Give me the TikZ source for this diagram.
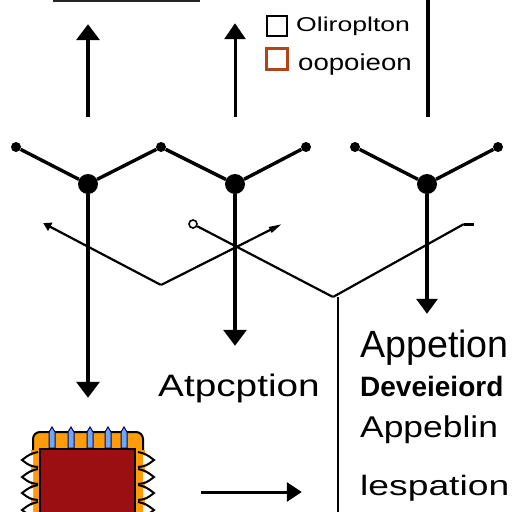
\documentclass[tikz,border=0pt]{standalone}
\usepackage{fontspec}
\setmainfont{Liberation Sans}
\usetikzlibrary{arrows.meta}
\definecolor{chipred}{HTML}{9B0F12}
\definecolor{chiporange}{HTML}{FF9C08}
\definecolor{pinblue}{HTML}{6FA8EE}
\definecolor{legendred}{HTML}{B5431A}
\newcommand{\txtfont}[2]{\fontsize{#1}{#1}\selectfont\addfontfeature{FakeStretch=#2}}
\tikzset{
  wire/.style={line width=3.4pt,black},
  thin wire/.style={line width=2.2pt,black},
  hub/.style={circle,fill=black,inner sep=0pt,minimum size=20pt},
  tip/.style={circle,fill=black,inner sep=0pt,minimum size=10pt},
  free/.style={inner sep=0pt,minimum size=0pt},
  head/.style={-{Triangle[length=16pt,width=23pt]}},
  txt/.style={anchor=base west,inner sep=0pt,text=black},
}
\begin{document}
\begin{tikzpicture}[x=1pt,y=-1pt]
\useasboundingbox (0,0) rectangle (512,512);
\fill[white] (0,0) rectangle (512,512);
% hubs and tips
\node[hub] (h1) at (88,184) {};
\node[hub] (h2) at (235,184) {};
\node[hub] (h3) at (427,184) {};
\node[tip] (t1) at (16,147) {};
\node[tip] (t2) at (161,147) {};
\node[tip] (t3) at (306,147) {};
\node[tip] (t4) at (355,147) {};
\node[tip] (t5) at (498,147) {};
\draw[wire] (t1) -- (h1);
\draw[wire] (h1) -- (t2);
\draw[wire] (t2) -- (h2);
\draw[wire] (h2) -- (t3);
\draw[wire] (t4) -- (h3);
\draw[wire] (h3) -- (t5);
% arrows up
\node[free] (u1) at (88,24) {};
\node[free] (u1b) at (88,117) {};
\node[free] (u2) at (235,23) {};
\node[free] (u2b) at (235,117) {};
\draw[line width=3.8pt,head] (u1b) -- (u1);
\draw[line width=3pt,-{Triangle[length=16pt,width=21pt]}] (u2b) -- (u2);
% top rules
\node[free] (r1) at (53,0) {};
\node[free] (r2) at (200,0) {};
\draw[line width=3pt,black!85] (r1) -- (r2);
\node[free] (v1) at (428,0) {};
\node[free] (v2) at (428,117) {};
\draw[line width=3.4pt] (v1) -- (v2);
% arrows down
\node[free] (d1) at (88,398) {};
\node[free] (d2) at (235,346) {};
\node[free] (d3) at (427,314) {};
\draw[wire,head] (h1) -- (d1);
\draw[wire,head] (h2) -- (d2);
\draw[wire,-{Triangle[length=15pt,width=21pt]}] (h3) -- (d3);
% crossing lines
\node[free] (a) at (43,223) {};
\node[free] (b) at (161,285) {};
\node[free] (c) at (282,224) {};
\node[draw,circle,line width=1.6pt,minimum size=8pt,inner sep=0pt] (e) at (193,224) {};
\node[free] (f) at (333,297) {};
\node[free] (g) at (464,224) {};
\node[free] (g2) at (474,224) {};
\draw[thin wire,-{Triangle[length=8pt,width=9pt]}] (b) -- (a);
\draw[thin wire,-{Triangle[length=13pt,width=6pt]}] (b) -- (c);
\draw[thin wire] (e) -- (f);
\draw[thin wire] (f) -- (g);
\draw[line width=3pt] (g) -- (g2);
\node[free] (w1) at (338,297) {};
\node[free] (w2) at (338,512) {};
\draw[line width=2.6pt] (w1) -- (w2);
% legend
\node[draw=black,line width=2pt,minimum size=20pt,inner sep=0pt] (k1) at (277,25.5) {};
\node[draw=legendred,line width=3pt,minimum size=21pt,inner sep=0pt] (k2) at (277,59) {};
\node[txt,font=\txtfont{20}{1.33}] at (296,31) {Oliroplton};
\node[txt,font=\txtfont{23}{1.2}] at (298,70) {oopoieon};
% texts
\node[txt,font=\txtfont{31}{1.25}] at (158,396) {Atpcption};
\node[txt,font=\txtfont{38}{0.99}] at (360,357) {Appetion};
\node[txt,font=\bfseries\txtfont{28}{1.0}] at (360,396) {Deveieiord};
\node[txt,font=\txtfont{30}{1.18}] at (360,437) {Appeblin};
\node[txt,font=\txtfont{28}{1.33}] at (360,495) {lespation};
% lower arrow
\node[free] (p1) at (201,492) {};
\node[free] (p2) at (302,492) {};
\draw[line width=3pt,-{Triangle[length=15pt,width=19pt]}] (p1) -- (p2);
% chip
\draw[black,line width=2pt,fill=chiporange,rounded corners=7pt] (33,432) rectangle (143,530);
\fill[chiporange] (31,450) rectangle (145,512);
\foreach \x in {52,71,90,108,124}{
  \fill[pinblue,draw=black!60!blue,line width=1pt] (\x-3,448) -- (\x-3,432) -- (\x,427) -- (\x+3,432) -- (\x+3,448) -- cycle;
}
\foreach \y in {460,477,493,510}{
  \fill[white] (22,\y) -- (33,\y-5) -- (33,\y+5) -- cycle;
  \fill[white] (154,\y) -- (143,\y-5) -- (143,\y+5) -- cycle;
  \draw[black,line width=2pt] (38,\y-8) .. controls (30,\y-6) .. (22,\y) .. controls (30,\y+6) .. (38,\y+7);
  \draw[black,line width=2pt] (138,\y-8) .. controls (146,\y-6) .. (154,\y) .. controls (146,\y+6) .. (138,\y+7);
}
\draw[black,line width=2.4pt,fill=chipred] (40,449) rectangle (135,530);
\end{tikzpicture}
\end{document}
